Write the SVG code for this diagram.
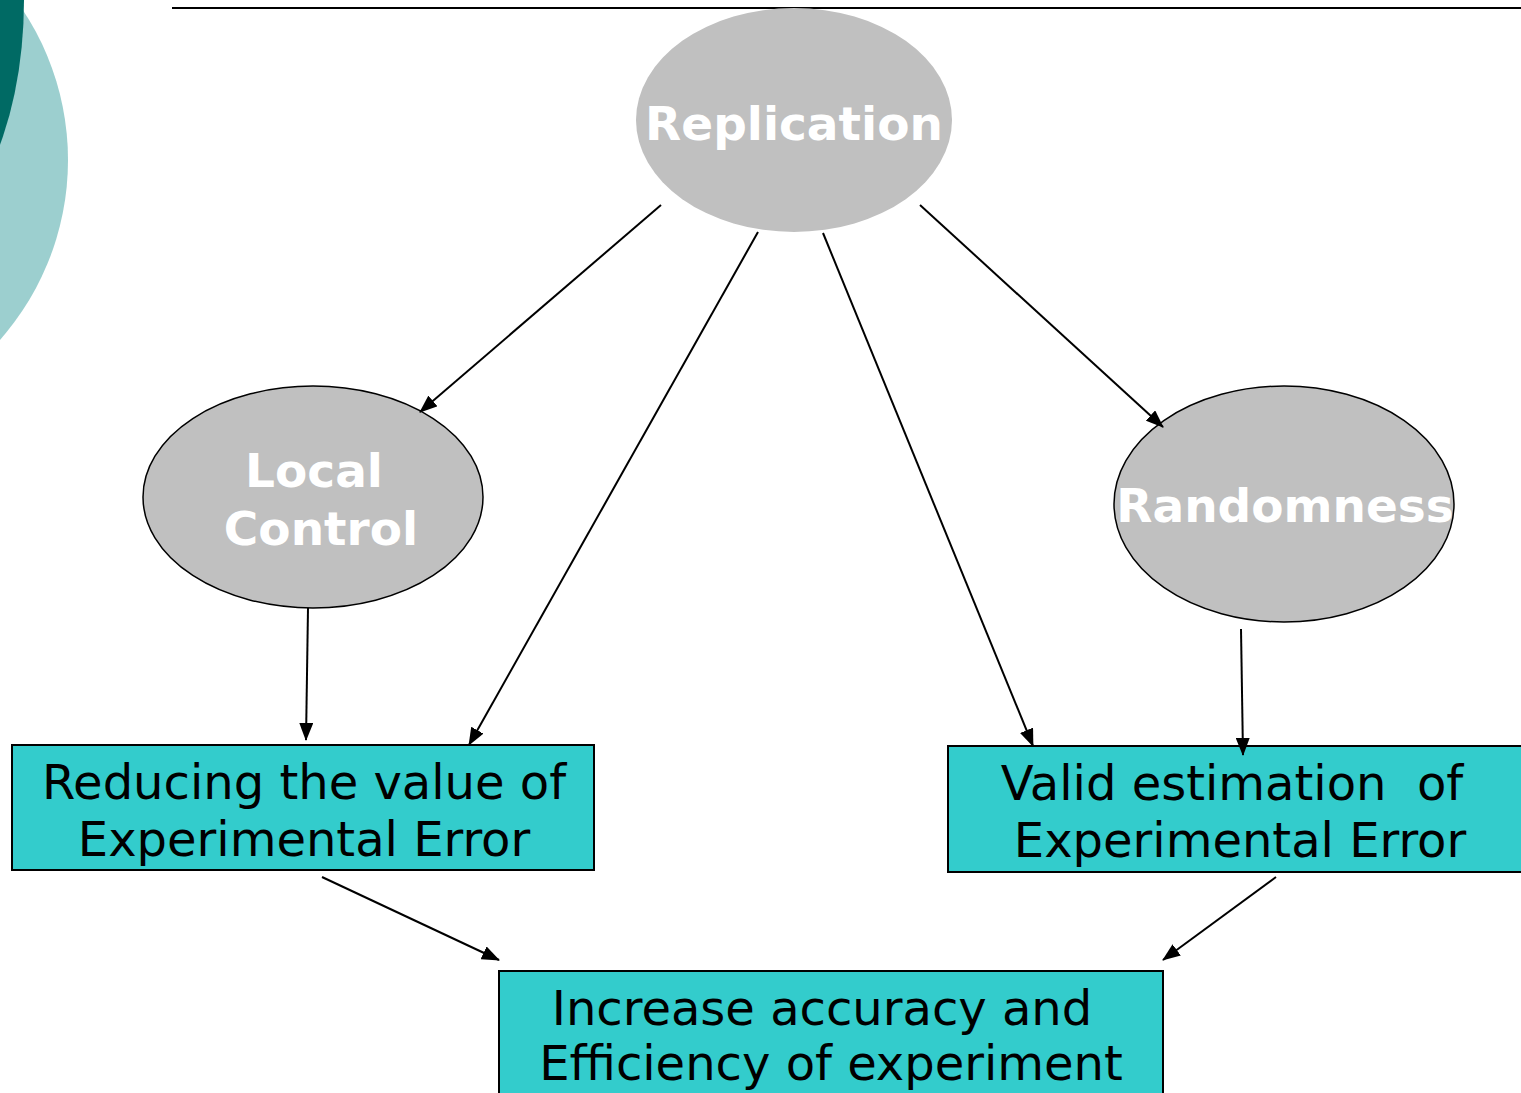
<svg xmlns="http://www.w3.org/2000/svg" width="1521" height="1093" viewBox="0 0 1521 1093">
<style>
.ell{fill:#c0c0c0}
.ells{fill:#c0c0c0;stroke:#000;stroke-width:1.5}
.box{fill:#33cccc;stroke:#000;stroke-width:2}
.lbl{font-family:"DejaVu Sans",Verdana,sans-serif;font-weight:bold;font-size:47px;fill:#fff;text-anchor:middle}
.txt{font-family:"DejaVu Sans",Verdana,sans-serif;font-size:48px;fill:#000;text-anchor:middle}
.con line{stroke:#000;stroke-width:2;fill:none;marker-end:url(#ah)}
</style>
<defs>
<marker id="ah" markerUnits="userSpaceOnUse" markerWidth="18" markerHeight="14" refX="17" refY="7" orient="auto" viewBox="0 0 18 14">
<path d="M0,0 L18,7 L0,14 Z" fill="#000"/>
</marker>
</defs>
<rect width="1521" height="1093" fill="#fff"/>
<g id="decoration">
<circle cx="-204" cy="160" r="272" fill="#9ccfcf"/>
<ellipse cx="-100" cy="0" rx="124" ry="245" fill="#006a64"/>
<line x1="172" y1="8" x2="1521" y2="8" stroke="#000" stroke-width="2"/>
</g>
<g id="replication">
<ellipse class="ell" cx="794" cy="120" rx="158" ry="112"/>
<text class="lbl" x="794" y="140">Replication</text>
</g>
<g id="local-control">
<ellipse class="ells" cx="313" cy="497" rx="170" ry="111"/>
<text class="lbl" x="314" y="487">Local</text>
<text class="lbl" x="321" y="545">Control</text>
</g>
<g id="randomness">
<ellipse class="ells" cx="1284" cy="504" rx="170" ry="118"/>
<text class="lbl" x="1285" y="522">Randomness</text>
</g>
<g id="reducing">
<rect class="box" x="12" y="745" width="582" height="125"/>
<text class="txt" x="304" y="799">Reducing the value of</text>
<text class="txt" x="304" y="856">Experimental Error</text>
</g>
<g id="valid">
<rect class="box" x="948" y="746" width="580" height="126"/>
<text class="txt" x="1232" y="800" xml:space="preserve">Valid estimation  of</text>
<text class="txt" x="1240" y="857">Experimental Error</text>
</g>
<g id="increase">
<rect class="box" x="499" y="971" width="664" height="130"/>
<text class="txt" x="822" y="1025">Increase accuracy and</text>
<text class="txt" x="831" y="1080">Efficiency of experiment</text>
</g>
<g class="con" id="connectors">
<line x1="661" y1="205" x2="420" y2="412"/>
<line x1="758" y1="232" x2="469" y2="745"/>
<line x1="823" y1="233" x2="1033" y2="746"/>
<line x1="920" y1="205" x2="1163" y2="427"/>
<line x1="308" y1="608" x2="306" y2="740"/>
<line x1="1241" y1="629" x2="1243" y2="755"/>
<line x1="322" y1="877" x2="499" y2="960"/>
<line x1="1276" y1="877" x2="1163" y2="960"/>
</g>
</svg>
